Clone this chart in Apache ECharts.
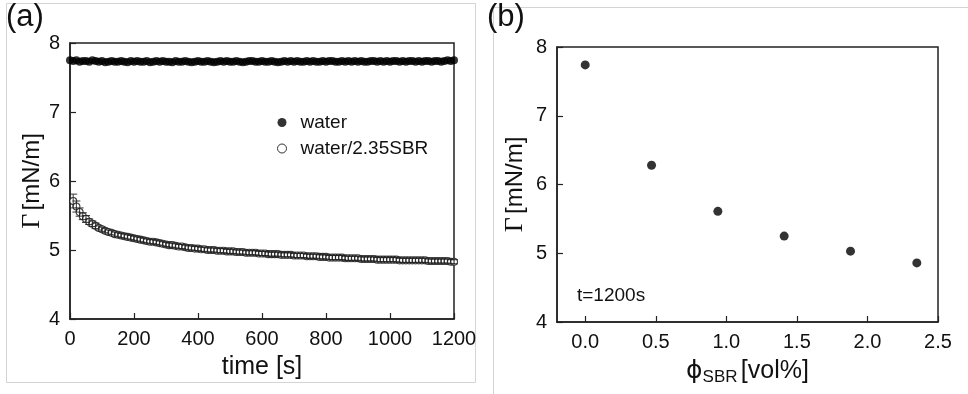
<!DOCTYPE html>
<html>
<head>
<meta charset="utf-8">
<script src="https://cdn.jsdelivr.net/npm/echarts@6/dist/echarts.min.js"></script>
<style>
  html, body { margin: 0; padding: 0; background: #fff; }
  #chart { width: 968px; height: 394px; }
</style>
</head>
<body>
<div id="chart"></div>
<script>
// Panel (a): surface pressure versus time
const waterTimes = [0,10,20,30,40,50,60,70,80,90,100,110,120,130,140,150,160,170,180,190,200,210,220,230,240,250,260,270,280,290,300,310,320,330,340,350,360,370,380,390,400,410,420,430,440,450,460,470,480,490,500,510,520,530,540,550,560,570,580,590,600,610,620,630,640,650,660,670,680,690,700,710,720,730,740,750,760,770,780,790,800,810,820,830,840,850,860,870,880,890,900,910,920,930,940,950,960,970,980,990,1000,1010,1020,1030,1040,1050,1060,1070,1080,1090,1100,1110,1120,1130,1140,1150,1160,1170,1180,1190,1200];
const waterGamma = [7.75,7.74,7.75,7.73,7.74,7.74,7.73,7.75,7.74,7.73,7.74,7.72,7.73,7.74,7.73,7.73,7.74,7.73,7.72,7.74,7.73,7.74,7.73,7.73,7.74,7.72,7.73,7.74,7.73,7.74,7.73,7.73,7.72,7.74,7.73,7.73,7.74,7.73,7.72,7.73,7.74,7.73,7.73,7.74,7.73,7.72,7.73,7.74,7.73,7.74,7.73,7.73,7.74,7.73,7.72,7.73,7.74,7.74,7.73,7.73,7.74,7.73,7.73,7.74,7.73,7.72,7.73,7.74,7.73,7.74,7.73,7.74,7.73,7.73,7.74,7.73,7.74,7.73,7.73,7.74,7.73,7.74,7.74,7.73,7.73,7.74,7.73,7.74,7.73,7.74,7.73,7.74,7.73,7.73,7.74,7.74,7.73,7.74,7.73,7.74,7.73,7.74,7.74,7.73,7.74,7.73,7.74,7.74,7.73,7.74,7.73,7.74,7.74,7.73,7.74,7.74,7.73,7.74,7.75,7.74,7.75];

const sbrTimes = [10,20,30,40,50,60,70,80,90,100,110,120,130,140,150,160,170,180,190,200,210,220,230,240,250,260,270,280,290,300,310,320,330,340,350,360,370,380,390,400,410,420,430,440,450,460,470,480,490,500,510,520,530,540,550,560,570,580,590,600,610,620,630,640,650,660,670,680,690,700,710,720,730,740,750,760,770,780,790,800,810,820,830,840,850,860,870,880,890,900,910,920,930,940,950,960,970,980,990,1000,1010,1020,1030,1040,1050,1060,1070,1080,1090,1100,1110,1120,1130,1140,1150,1160,1170,1180,1190,1200];
const sbrGamma = [5.71,5.63,5.55,5.49,5.45,5.41,5.38,5.35,5.32,5.30,5.28,5.26,5.25,5.23,5.22,5.21,5.20,5.19,5.18,5.17,5.16,5.15,5.14,5.13,5.12,5.12,5.11,5.10,5.09,5.08,5.07,5.07,5.06,5.05,5.05,5.04,5.03,5.03,5.02,5.02,5.01,5.01,5.00,5.00,5.00,4.99,4.99,4.99,4.98,4.98,4.98,4.97,4.97,4.97,4.96,4.96,4.96,4.96,4.95,4.95,4.95,4.94,4.94,4.94,4.94,4.93,4.93,4.93,4.93,4.92,4.92,4.92,4.92,4.91,4.91,4.91,4.91,4.90,4.90,4.90,4.89,4.89,4.89,4.89,4.89,4.88,4.88,4.88,4.88,4.88,4.87,4.87,4.87,4.87,4.87,4.86,4.86,4.86,4.86,4.86,4.86,4.86,4.85,4.85,4.85,4.85,4.85,4.85,4.85,4.85,4.85,4.84,4.84,4.84,4.84,4.84,4.84,4.84,4.83,4.83];
const sbrError = [0.10,0.08,0.06,0.05,0.05,0.04,0.04,0.04,0.03,0.03,0.03,0.03,0.03,0.03,0.03,0.03,0.03,0.03,0.03,0.03,0.03,0.03,0.03,0.03,0.03,0.03,0.03,0.03,0.03,0.03,0.03,0.03,0.03,0.03,0.03,0.03,0.03,0.03,0.03,0.03,0.03,0.03,0.03,0.03,0.03,0.03,0.03,0.03,0.03,0.03,0.03,0.03,0.03,0.03,0.03,0.03,0.03,0.03,0.03,0.03,0.03,0.03,0.03,0.03,0.03,0.03,0.03,0.03,0.03,0.03,0.03,0.03,0.03,0.03,0.03,0.03,0.03,0.03,0.03,0.03,0.03,0.03,0.03,0.03,0.03,0.03,0.03,0.03,0.03,0.03,0.03,0.03,0.03,0.03,0.03,0.03,0.03,0.03,0.03,0.03,0.03,0.03,0.03,0.03,0.03,0.03,0.03,0.03,0.03,0.03,0.03,0.03,0.03,0.03,0.03,0.03,0.03,0.03,0.03,0.03];

const timeTicks = [0,200,400,600,800,1000,1200];
const gammaTicks = [4,5,6,7,8];

// Panel (b): surface pressure at t = 1200 s versus SBR content
const sbrFraction = [0.00,0.47,0.94,1.41,1.88,2.35];
const gammaAt1200 = [7.74,6.28,5.61,5.25,5.03,4.86];
const fractionTicks = [0.0,0.5,1.0,1.5,2.0,2.5];

const sans = 'Arial, "Liberation Sans", sans-serif';
const axisColor = '#222';
const textColor = '#111';

const chart = echarts.init(document.getElementById('chart'), null, { renderer: 'canvas' });

const yName = {
  name: '{g|Γ} {u|[mN/m]}',
  nameLocation: 'middle',
  nameRotate: 90,
  nameTextStyle: {
    rich: {
      g: { fontFamily: '"Liberation Serif", "Times New Roman", serif', fontSize: 26, color: textColor },
      u: { fontFamily: sans, fontSize: 24, color: textColor }
    }
  }
};

function valueAxisBase() {
  return {
    type: 'value',
    axisLine: { show: true, onZero: false, lineStyle: { color: axisColor, width: 1.5 } },
    splitLine: { show: false }
  };
}

function ticks(values) {
  return { show: true, inside: true, length: 6, lineStyle: { color: axisColor, width: 1.2 }, customValues: values };
}

function labels(values, formatter) {
  return { color: textColor, fontFamily: sans, fontSize: 20, margin: 10, customValues: values, formatter: formatter };
}

const plain = v => String(v);
const errorData = sbrTimes.map((t, i) => [t, sbrGamma[i] - sbrError[i], sbrGamma[i] + sbrError[i]]);

chart.setOption({
  animation: false,
  backgroundColor: '#fff',
  grid: [
    { left: 70, right: 514, top: 43, bottom: 75, show: true, borderColor: axisColor, borderWidth: 1.5, backgroundColor: 'transparent' },
    { left: 557, right: 30, top: 47, bottom: 72, show: true, borderColor: axisColor, borderWidth: 1.5, backgroundColor: 'transparent' }
  ],
  xAxis: [
    Object.assign(valueAxisBase(), {
      gridIndex: 0, min: 0, max: 1200,
      axisLabel: labels(timeTicks, plain),
      axisTick: ticks(timeTicks),
      name: 'time [s]', nameLocation: 'middle', nameGap: 36,
      nameTextStyle: { fontFamily: sans, fontSize: 25, color: textColor }
    }),
    Object.assign(valueAxisBase(), {
      gridIndex: 1, min: -0.2, max: 2.5,
      axisLabel: labels(fractionTicks, v => v.toFixed(1)),
      axisTick: ticks(fractionTicks),
      name: '{p|ϕ}{s|SBR} {u|[vol%]}', nameLocation: 'middle', nameGap: 35,
      nameTextStyle: {
        rich: {
          p: { fontFamily: '"DejaVu Sans", sans-serif', fontSize: 25, color: textColor },
          s: { fontFamily: sans, fontSize: 17, color: textColor, verticalAlign: 'bottom', padding: [12, 0, 0, 0] },
          u: { fontFamily: sans, fontSize: 25, color: textColor }
        }
      }
    })
  ],
  yAxis: [
    Object.assign(valueAxisBase(), yName, {
      gridIndex: 0, min: 4, max: 8,
      axisLabel: labels(gammaTicks, plain),
      axisTick: ticks(gammaTicks),
      nameGap: 21
    }),
    Object.assign(valueAxisBase(), yName, {
      gridIndex: 1, min: 4, max: 8,
      axisLabel: labels(gammaTicks, plain),
      axisTick: ticks(gammaTicks),
      nameGap: 29
    })
  ],
  legend: {
    orient: 'vertical',
    left: 272, top: 108,
    itemWidth: 9, itemHeight: 9, itemGap: 7,
    textStyle: { fontFamily: sans, fontSize: 19, color: textColor, padding: [0, 0, 0, 9] },
    data: [
      { name: 'water', icon: 'circle', itemStyle: { color: '#000' } },
      { name: 'water/2.35SBR', icon: 'circle', itemStyle: { color: '#fff', borderColor: '#000', borderWidth: 1 } }
    ]
  },
  graphic: [
    // light panel outlines
    { type: 'rect', shape: { x: 6.5, y: 3.5, width: 469, height: 379 }, style: { fill: 'none', stroke: '#d4d4d4', lineWidth: 1 }, silent: true, z: -1 },
    { type: 'polyline', shape: { points: [[493.5, 394], [493.5, 7.5], [968, 7.5]] }, style: { fill: 'none', stroke: '#d4d4d4', lineWidth: 1 }, silent: true, z: -1 },
    { type: 'text', left: 6, top: 2, style: { text: '(a)', fontFamily: sans, fontSize: 31, fill: textColor } },
    { type: 'text', left: 487, top: 2, style: { text: '(b)', fontFamily: sans, fontSize: 31, fill: textColor } },
    { type: 'text', left: 577, top: 286, style: { text: 't=1200s', fontFamily: sans, fontSize: 19, fill: textColor } }
  ],
  series: [
    {
      name: 'water', type: 'scatter', xAxisIndex: 0, yAxisIndex: 0,
      symbol: 'circle', symbolSize: 8,
      itemStyle: { color: '#000' },
      data: waterTimes.map((t, i) => [t, waterGamma[i]]),
      z: 3
    },
    {
      name: 'water/2.35SBR error', type: 'custom', xAxisIndex: 0, yAxisIndex: 0,
      data: errorData,
      renderItem: function (params, api) {
        const lo = api.coord([api.value(0), api.value(1)]);
        const hi = api.coord([api.value(0), api.value(2)]);
        const cap = 4;
        const s = { stroke: '#222', lineWidth: 0.9 };
        return {
          type: 'group',
          children: [
            { type: 'line', shape: { x1: lo[0], y1: lo[1], x2: hi[0], y2: hi[1] }, style: s },
            { type: 'line', shape: { x1: lo[0] - cap, y1: lo[1], x2: lo[0] + cap, y2: lo[1] }, style: s },
            { type: 'line', shape: { x1: hi[0] - cap, y1: hi[1], x2: hi[0] + cap, y2: hi[1] }, style: s }
          ]
        };
      },
      z: 4
    },
    {
      name: 'water/2.35SBR', type: 'scatter', xAxisIndex: 0, yAxisIndex: 0,
      symbol: 'circle', symbolSize: 7,
      itemStyle: { color: '#fff', borderColor: '#111', borderWidth: 1.1 },
      data: sbrTimes.map((t, i) => [t, sbrGamma[i]]),
      z: 3
    },
    {
      name: 't=1200s', type: 'scatter', xAxisIndex: 1, yAxisIndex: 1,
      symbol: 'circle', symbolSize: 9,
      itemStyle: { color: '#000' },
      data: sbrFraction.map((x, i) => [x, gammaAt1200[i]])
    }
  ]
});
</script>
</body>
</html>
